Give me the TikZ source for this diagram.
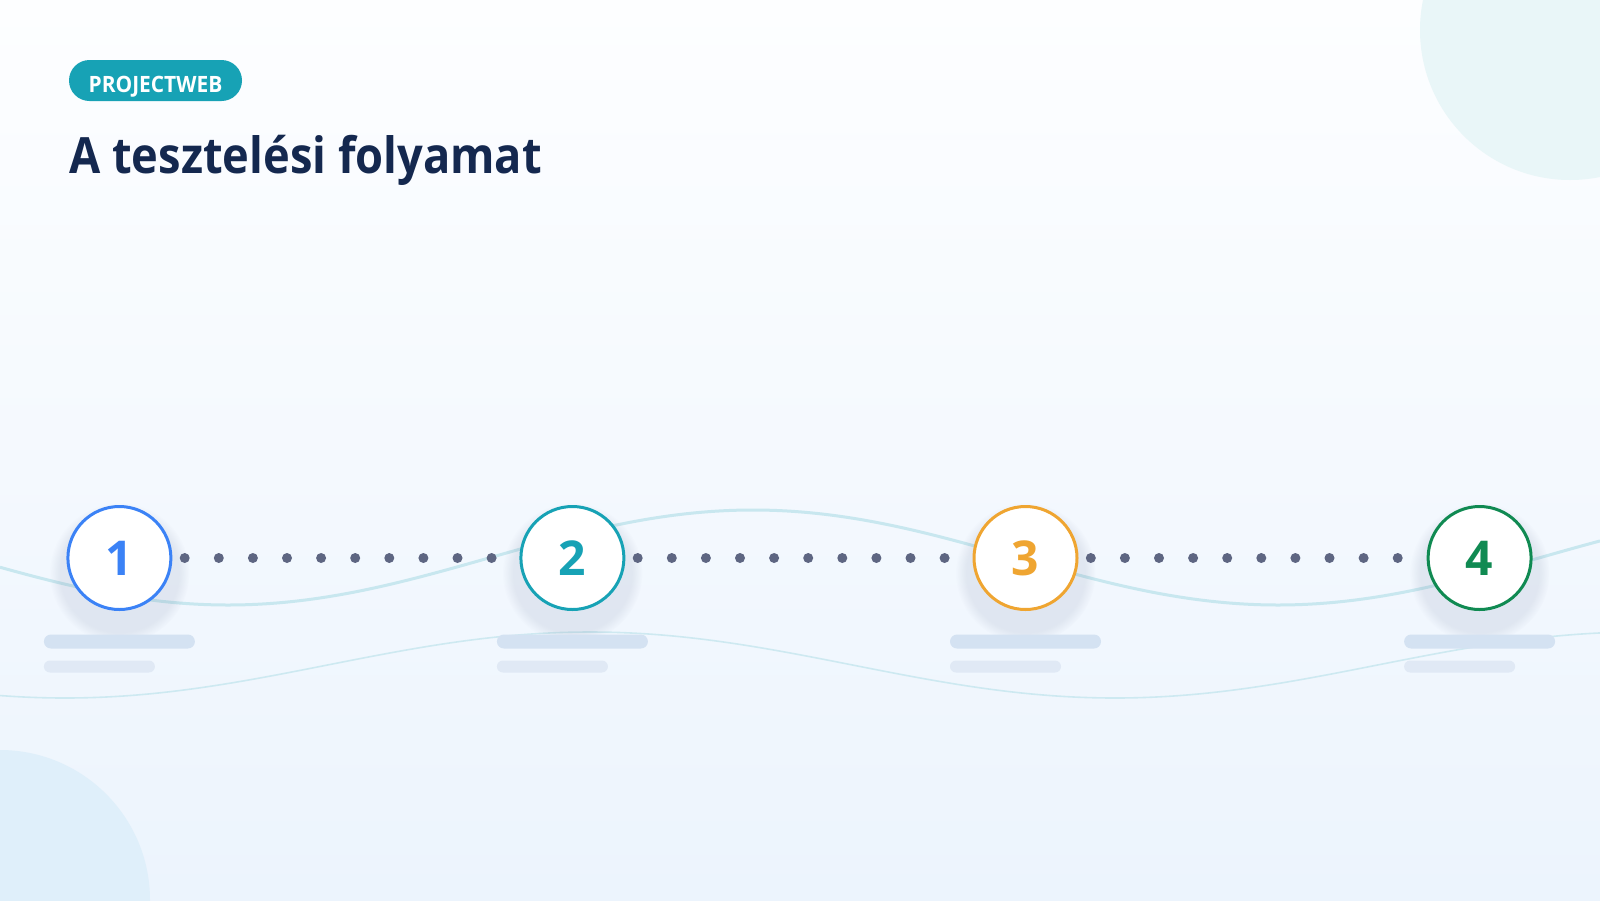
\documentclass[tikz,border=0pt]{standalone}
\usepackage{fontspec}
\setmainfont{Open Sans}
\newfontfamily\headfont[FakeStretch=0.905]{Open Sans}
\newfontfamily\tagfont[FakeStretch=0.93]{Open Sans}
\usepackage{tikz}
\usetikzlibrary{positioning, shadows}
\definecolor{navy}{HTML}{14284F}
\definecolor{teal}{HTML}{17A2B5}
\definecolor{stepblue}{HTML}{3B82F6}
\definecolor{steporange}{HTML}{EFA531}
\definecolor{stepgreen}{HTML}{108A52}
\definecolor{dotgrey}{HTML}{5E6682}
\definecolor{wavec}{HTML}{C8E7EF}
\definecolor{barc}{HTML}{D4E2F2}
\definecolor{barlight}{HTML}{E0E9F5}
\definecolor{shadowc}{HTML}{4A5A80}
\definecolor{bgtop}{HTML}{FDFEFF}
\definecolor{bgbottom}{HTML}{ECF4FD}
\definecolor{blobmint}{HTML}{E9F6F8}
\definecolor{blobblue}{HTML}{DFEFFA}
\tikzset{
  stepcirc/.style={circle, draw=#1, text=#1, fill=white, line width=3pt,
    minimum size=103pt, inner sep=0pt, font=\fontsize{48}{48}\selectfont\bfseries,
    circular drop shadow={shadow xshift=0pt, shadow yshift=-11pt, shadow scale=1.36,
      opacity=0.10, fill=shadowc}},
  dotline/.style={dotgrey, line width=10pt, line cap=round,
    dash pattern=on 0pt off 34.1pt, shorten <=12.3pt},
  wave/.style={wavec, line width=#1},
  barlong/.style={fill=barc, rounded corners=7pt, minimum width=151pt,
    minimum height=14pt, inner sep=0pt, outer sep=0pt},
  barshort/.style={fill=barlight, rounded corners=6pt, minimum width=111pt,
    minimum height=12pt, inner sep=0pt, outer sep=0pt},
}
\begin{document}
\begin{tikzpicture}[x=1pt, y=-1pt]
%background
\useasboundingbox (0,0) rectangle (1600,900);
\shade[top color=bgtop, bottom color=bgbottom] (0,0) rectangle (1600,900);
\fill[blobmint] (1570,30) circle (150pt);
\fill[blobblue] (0,900) circle (150pt);
%waves
\draw[wave=3pt] plot[domain=0:1600, samples=120, smooth] (\x, {557.5+47.5*cos((\x-228)/1050*360)});
\draw[wave=1.6pt, opacity=0.85] plot[domain=0:1600, samples=120, smooth] (\x, {665-33*cos((\x-590)/1050*360)});
%steps
\node[stepcirc=stepblue] (step1) at (119.4,558) {1};
\node[stepcirc=teal] (step2) at (572.4,558) {2};
\node[stepcirc=steporange] (step3) at (1025.5,558) {3};
\node[stepcirc=stepgreen] (step4) at (1479.6,558) {4};
\draw[dotline] (step1) -- (step2);
\draw[dotline] (step2) -- (step3);
\draw[dotline] (step3) -- (step4);
%placeholder bars
\node[barlong, below=23.5pt of step1] (bar1) {};
\node[barlong, below=23.5pt of step2] (bar2) {};
\node[barlong, below=23.5pt of step3] (bar3) {};
\node[barlong, below=23.5pt of step4] (bar4) {};
\node[barshort, below=12pt of bar1.south west, anchor=north west] (sub1) {};
\node[barshort, below=12pt of bar2.south west, anchor=north west] (sub2) {};
\node[barshort, below=12pt of bar3.south west, anchor=north west] (sub3) {};
\node[barshort, below=12pt of bar4.south west, anchor=north west] (sub4) {};
%heading
\node[fill=teal, text=white, rounded corners=20.5pt, minimum width=173pt,
  minimum height=41pt, inner sep=0pt, text height=23pt, text depth=0pt,
  font=\tagfont\fontsize{22.5}{22.5}\selectfont\bfseries]
  (tag) at (155.5,80.5) {PROJECTWEB};
\node[anchor=base west, inner sep=0pt, text=navy,
  font=\headfont\fontsize{50}{50}\selectfont\bfseries] (title) at (69,173) {A tesztelési folyamat};
\end{tikzpicture}
\end{document}
